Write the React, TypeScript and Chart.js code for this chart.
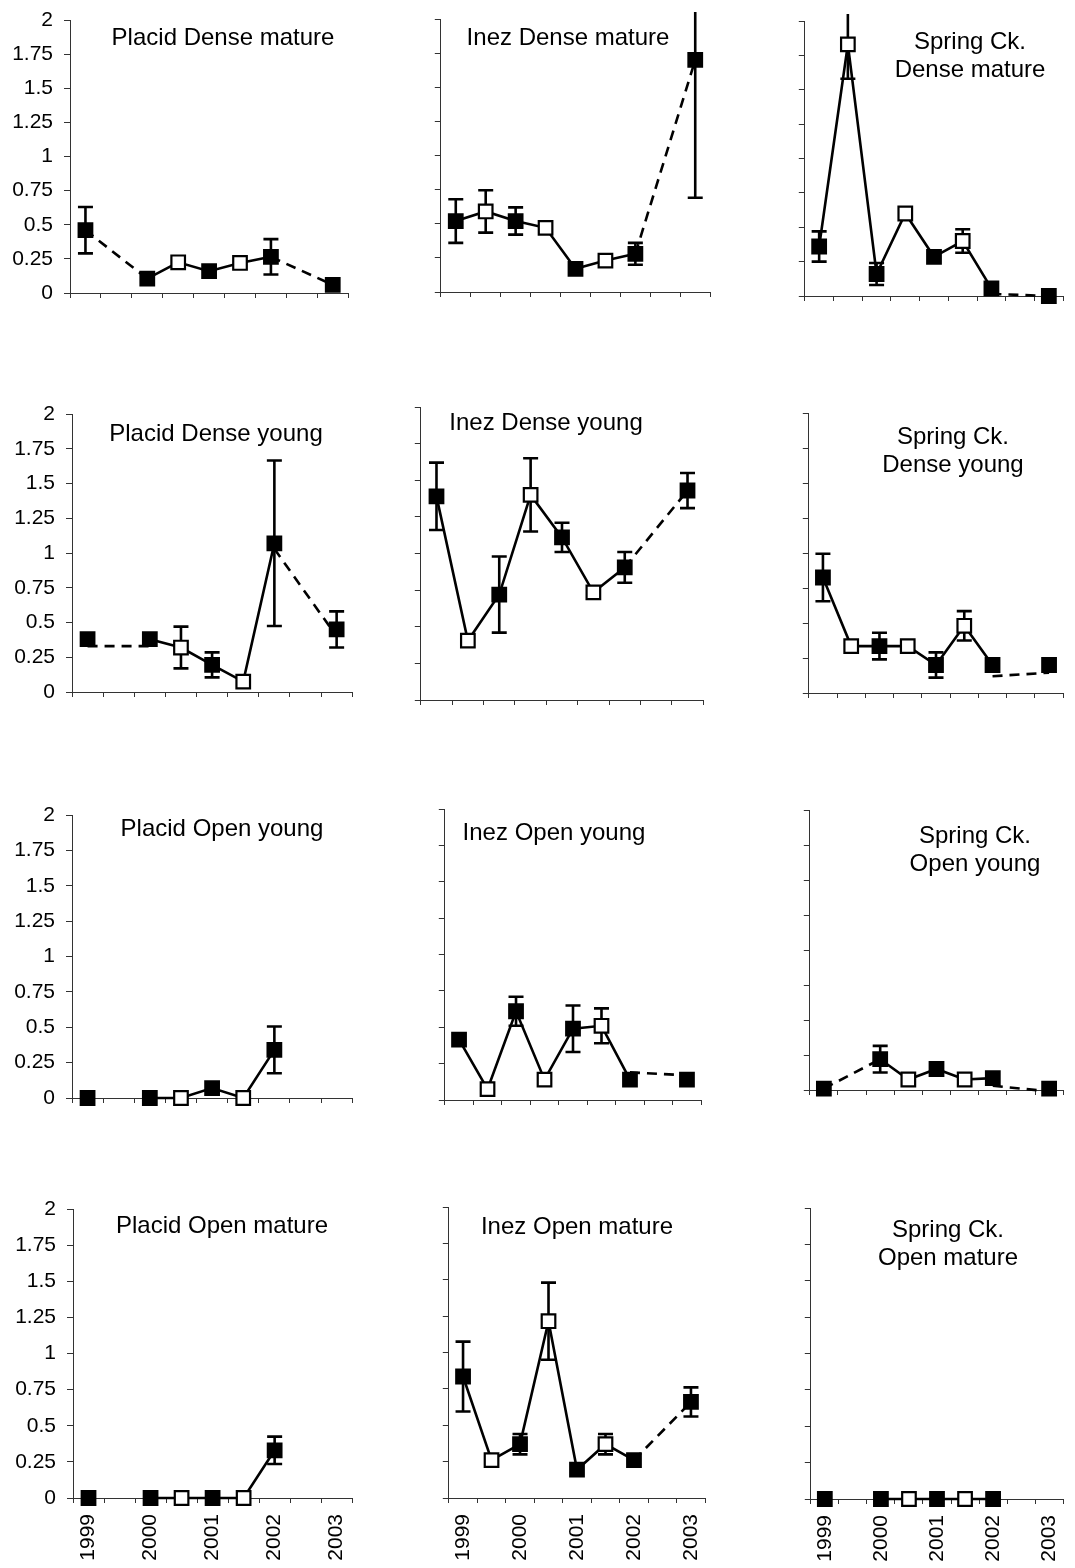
import React, { useEffect, useRef } from 'react';
import { Chart, registerables } from 'chart.js';

Chart.register(...registerables);

// ---------- shared axis data ----------
const categories = ['1999', '', '2000', '', '2001', '', '2002', '', '2003'];
const yTickLabels = ['0', '0.25', '0.5', '0.75', '1', '1.25', '1.5', '1.75', '2'];
const openMarker = [false, true, false, true, false, true, false, true, false];

// ---------- series values (null = no sample) ----------
const placidDenseMature = [0.46, null, 0.105, 0.225, 0.16, 0.22, 0.265, null, 0.06];
const placidDenseMatureErr = [0.17, 0, 0, 0, 0, 0, 0.13, 0, 0];
const placidDenseMatureDash = [[0, 0.46, 2, 0.105], [6, 0.265, 8, 0.06]];

const inezDenseMature = [0.52, 0.59, 0.52, 0.47, 0.17, 0.23, 0.28, null, 1.7];
const inezDenseMatureErr = [0.16, 0.155, 0.1, 0, 0, 0, 0.08, 0, 1.01];
const inezDenseMatureDash = [[6, 0.28, 8, 1.7]];

const springDenseMature = [0.36, 1.83, 0.16, 0.6, 0.285, 0.4, 0.055, null, 0];
const springDenseMatureErr = [0.11, 0.25, 0.08, 0, 0, 0.085, 0, 0, 0];
const springDenseMatureDash = [[6, 0.015, 8, 0]];

const placidDenseYoung = [0.38, null, 0.38, 0.32, 0.195, 0.075, 1.07, null, 0.45];
const placidDenseYoungErr = [0, 0, 0, 0.15, 0.09, 0, 0.595, 0, 0.13];
const placidDenseYoungDash = [[0, 0.33, 2, 0.33], [6, 1.03, 8, 0.4]];

const inezDenseYoung = [1.39, 0.405, 0.72, 1.4, 1.11, 0.735, 0.905, null, 1.43];
const inezDenseYoungErr = [0.23, 0, 0.26, 0.25, 0.1, 0, 0.105, 0, 0.12];
const inezDenseYoungDash = [[6, 0.905, 8, 1.43]];

const springDenseYoung = [0.825, 0.335, 0.335, 0.335, 0.2, 0.48, 0.2, null, 0.2];
const springDenseYoungErr = [0.17, 0, 0.095, 0, 0.09, 0.105, 0, 0, 0];
const springDenseYoungDash = [[6, 0.12, 8, 0.145]];

const placidOpenYoung = [0, null, 0, 0, 0.07, 0, 0.34, null, null];
const placidOpenYoungErr = [0, 0, 0, 0, 0, 0, 0.165, 0, 0];
const placidOpenYoungDash: number[][] = [];

const inezOpenYoung = [0.415, 0.075, 0.61, 0.14, 0.49, 0.51, 0.14, null, 0.14];
const inezOpenYoungErr = [0, 0, 0.1, 0, 0.16, 0.12, 0, 0, 0];
const inezOpenYoungDash = [[6, 0.19, 8, 0.17]];

const springOpenYoung = [0.01, null, 0.22, 0.075, 0.15, 0.075, 0.085, null, 0.01];
const springOpenYoungErr = [0, 0, 0.095, 0, 0, 0, 0, 0, 0];
const springOpenYoungDash = [[0, 0.01, 2, 0.22], [6, 0.03, 8, -0.01]];

const placidOpenMature = [0, null, 0, 0, 0, 0, 0.33, null, null];
const placidOpenMatureErr = [0, 0, 0, 0, 0, 0, 0.095, 0, 0];
const placidOpenMatureDash: number[][] = [];

const inezOpenMature = [0.835, 0.26, 0.37, 1.215, 0.195, 0.37, 0.26, null, 0.66];
const inezOpenMatureErr = [0.24, 0, 0.07, 0.265, 0, 0.07, 0, 0, 0.1];
const inezOpenMatureDash = [[6, 0.26, 8, 0.66]];

const springOpenMature = [0, null, 0, 0, 0, 0, 0, null, null];
const springOpenMatureErr = [0, 0, 0, 0, 0, 0, 0, 0, 0];
const springOpenMatureDash: number[][] = [];

// ---------- layout ----------
const FONT = "'Liberation Sans', Arial, Helvetica, sans-serif";
const TICK_SIZE = 21;
const TITLE_SIZE = 24;
const LINE_W = 2.6;

interface PanelDef {
  title: string[];
  values: (number | null)[];
  errors: number[];
  dashes: number[][];
  plot: [number, number, number, number]; // left, top, right, bottom of plot area (page px)
  titleAt: [number, number]; // centre of first title line
  yLabels: boolean;
  xLabels: boolean;
  col: number;
}

const panels: PanelDef[] = [
  { title: ['Placid Dense mature'], values: placidDenseMature, errors: placidDenseMatureErr, dashes: placidDenseMatureDash, plot: [70, 20, 354, 293], titleAt: [223, 38], yLabels: true, xLabels: false, col: 0 },
  { title: ['Inez Dense mature'], values: inezDenseMature, errors: inezDenseMatureErr, dashes: inezDenseMatureDash, plot: [439, 19, 716, 292], titleAt: [568, 38], yLabels: false, xLabels: false, col: 1 },
  { title: ['Spring Ck.', 'Dense mature'], values: springDenseMature, errors: springDenseMatureErr, dashes: springDenseMatureDash, plot: [803, 21, 1073, 296], titleAt: [970, 42], yLabels: false, xLabels: false, col: 2 },

  { title: ['Placid Dense young'], values: placidDenseYoung, errors: placidDenseYoungErr, dashes: placidDenseYoungDash, plot: [72, 414, 358, 692], titleAt: [216, 434], yLabels: true, xLabels: false, col: 0 },
  { title: ['Inez Dense young'], values: inezDenseYoung, errors: inezDenseYoungErr, dashes: inezDenseYoungDash, plot: [419, 407, 709, 700], titleAt: [546, 423], yLabels: false, xLabels: false, col: 1 },
  { title: ['Spring Ck.', 'Dense young'], values: springDenseYoung, errors: springDenseYoungErr, dashes: springDenseYoungDash, plot: [807, 413, 1074, 693], titleAt: [953, 437], yLabels: false, xLabels: false, col: 2 },

  { title: ['Placid Open young'], values: placidOpenYoung, errors: placidOpenYoungErr, dashes: placidOpenYoungDash, plot: [72, 815, 358, 1098], titleAt: [222, 829], yLabels: true, xLabels: false, col: 0 },
  { title: ['Inez Open young'], values: inezOpenYoung, errors: inezOpenYoungErr, dashes: inezOpenYoungDash, plot: [443, 809, 707, 1100], titleAt: [554, 833], yLabels: false, xLabels: false, col: 1 },
  { title: ['Spring Ck.', 'Open young'], values: springOpenYoung, errors: springOpenYoungErr, dashes: springOpenYoungDash, plot: [808, 810, 1074, 1090], titleAt: [975, 836], yLabels: false, xLabels: false, col: 2 },

  { title: ['Placid Open mature'], values: placidOpenMature, errors: placidOpenMatureErr, dashes: placidOpenMatureDash, plot: [73, 1209, 358, 1498], titleAt: [222, 1226], yLabels: true, xLabels: true, col: 0 },
  { title: ['Inez Open mature'], values: inezOpenMature, errors: inezOpenMatureErr, dashes: inezOpenMatureDash, plot: [447, 1207, 711, 1498], titleAt: [577, 1227], yLabels: false, xLabels: true, col: 1 },
  { title: ['Spring Ck.', 'Open mature'], values: springOpenMature, errors: springOpenMatureErr, dashes: springOpenMatureDash, plot: [809, 1208, 1074, 1499], titleAt: [948, 1230], yLabels: false, xLabels: true, col: 2 },
];

const LINE_GAP = 28;
const PAD_TOP = 14;

function geometry(p: PanelDef) {
  const [L, T, R, B] = p.plot;
  const yW = p.yLabels ? 66 : 10;
  const xH = p.xLabels ? 70 : 12;
  const padR = p.col === 2 ? 1075 - R : 6;
  const left = L - yW;
  const top = T - PAD_TOP;
  const width = yW + (R - L) + padR;
  const height = PAD_TOP + (B - T) + xH;
  return { left, top, width, height, yW, xH, padR };
}

function PanelChart({ p }: { p: PanelDef }) {
  const ref = useRef<HTMLCanvasElement | null>(null);
  const g = geometry(p);

  useEffect(() => {
    if (!ref.current) return;

    const errorBars = {
      id: 'errorBars',
      beforeDatasetsDraw(chart: any) {
        const { ctx, chartArea, scales } = chart;
        const xs = scales.x;
        const ys = scales.y;
        ctx.save();
        ctx.beginPath();
        ctx.rect(0, chartArea.top - 7, chart.width, chart.height);
        ctx.clip();
        ctx.strokeStyle = '#000';
        ctx.lineWidth = LINE_W;
        p.values.forEach((v, i) => {
          const e = p.errors[i];
          if (v === null || !e) return;
          const x = xs.getPixelForValue(i);
          const y1 = ys.getPixelForValue(v + e);
          const y2 = ys.getPixelForValue(v - e);
          ctx.beginPath();
          ctx.moveTo(x, y1);
          ctx.lineTo(x, y2);
          ctx.moveTo(x - 7.5, y1);
          ctx.lineTo(x + 7.5, y1);
          ctx.moveTo(x - 7.5, y2);
          ctx.lineTo(x + 7.5, y2);
          ctx.stroke();
        });
        ctx.restore();
      },
    };

    const titles = {
      id: 'panelTitle',
      afterDraw(chart: any) {
        const { ctx } = chart;
        ctx.save();
        ctx.fillStyle = '#000';
        ctx.font = `${TITLE_SIZE}px ${FONT}`;
        ctx.textAlign = 'center';
        ctx.textBaseline = 'middle';
        p.title.forEach((t, i) => {
          ctx.fillText(t, p.titleAt[0] - g.left, p.titleAt[1] - g.top + i * LINE_GAP);
        });
        ctx.restore();
      },
    };

    const dashSets = p.dashes.map((d) => {
      const data: (number | null)[] = categories.map(() => null);
      data[d[0]] = d[1];
      data[d[2]] = d[3];
      return {
        data,
        borderColor: '#000',
        borderWidth: LINE_W,
        borderDash: [10, 7],
        pointRadius: 0,
        spanGaps: true,
        clip: false as any,
        order: 1,
        tension: 0,
      };
    });

    const chart = new Chart(ref.current, {
      type: 'line',
      data: {
        labels: categories,
        datasets: [
          {
            data: p.values,
            borderColor: '#000',
            borderWidth: LINE_W,
            pointStyle: 'rect',
            pointRadius: 9.6,
            pointBorderWidth: 2.2,
            pointBorderColor: '#000',
            pointBackgroundColor: openMarker.map((o) => (o ? '#fff' : '#000')),
            spanGaps: false,
            clip: false as any,
            order: 0,
            tension: 0,
          } as any,
          ...(dashSets as any[]),
        ],
      },
      options: {
        responsive: false,
        animation: false,
        devicePixelRatio: 1,
        events: [],
        layout: { padding: { top: PAD_TOP, right: g.padR, left: 0, bottom: 0 } },
        plugins: {
          legend: { display: false },
          tooltip: { enabled: false },
          title: { display: false },
        },
        scales: {
          x: {
            type: 'category',
            offset: true,
            grid: {
              offset: true,
              drawOnChartArea: false,
              drawTicks: true,
              tickLength: 5,
              color: '#333',
              lineWidth: 1,
            },
            border: { display: true, color: '#333', width: 1 },
            ticks: {
              display: p.xLabels,
              autoSkip: false,
              maxRotation: 90,
              minRotation: 90,
              padding: 11,
              color: '#000',
              font: { size: TICK_SIZE, family: FONT },
            },
            afterFit: (s: any) => {
              s.height = g.xH;
              s.paddingLeft = 0;
              s.paddingRight = 0;
              s.paddingTop = 0;
              s.paddingBottom = 0;
            },
          },
          y: {
            type: 'linear',
            min: 0,
            max: 2,
            ticks: {
              stepSize: 0.25,
              display: p.yLabels,
              padding: 11,
              color: '#000',
              font: { size: TICK_SIZE, family: FONT },
              callback: (v: any) => yTickLabels[Math.round(Number(v) / 0.25)] ?? '',
            },
            grid: {
              drawOnChartArea: false,
              drawTicks: true,
              tickLength: 6,
              color: '#333',
              lineWidth: 1,
            },
            border: { display: true, color: '#333', width: 1 },
            afterFit: (s: any) => {
              s.width = g.yW;
              s.paddingLeft = 0;
              s.paddingRight = 0;
              s.paddingTop = 0;
              s.paddingBottom = 0;
            },
          },
        },
      } as any,
      plugins: [errorBars, titles],
    });

    return () => chart.destroy();
  }, []);

  return (
    <div style={{ position: 'absolute', left: g.left, top: g.top, width: g.width, height: g.height }}>
      <canvas ref={ref} width={g.width} height={g.height} style={{ display: 'block' }} />
    </div>
  );
}

export default function App() {
  return (
    <div
      style={{
        position: 'absolute',
        left: 0,
        top: 0,
        width: 1075,
        height: 1568,
        overflow: 'hidden',
        background: '#fff',
      }}
    >
      {panels.map((p, i) => (
        <PanelChart key={i} p={p} />
      ))}
    </div>
  );
}
